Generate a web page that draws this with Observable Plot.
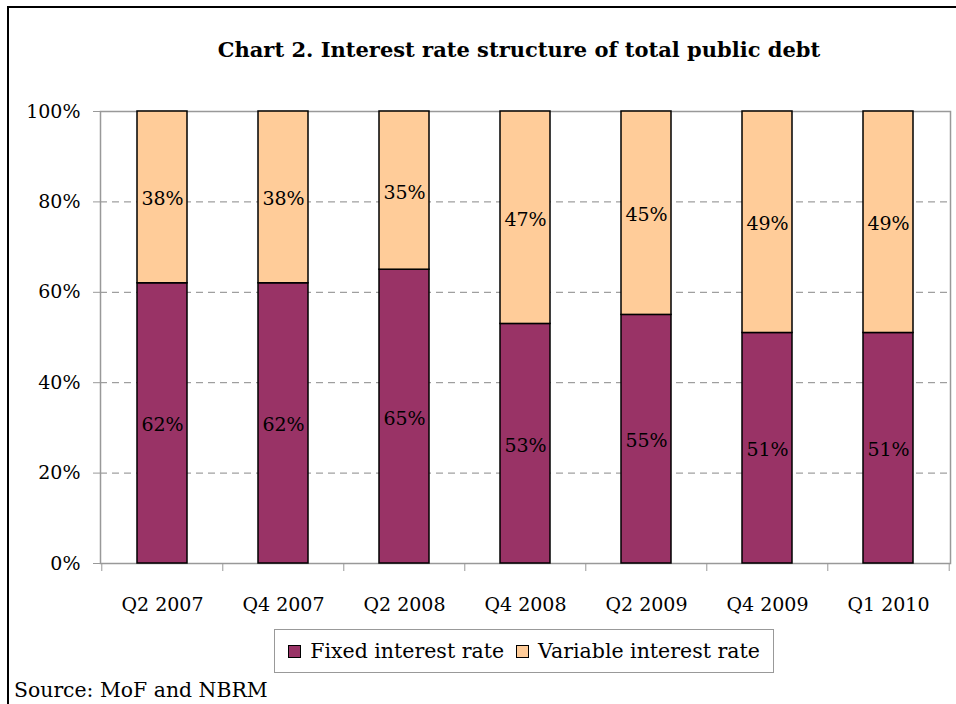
<!DOCTYPE html>
<html>
<head>
<meta charset="utf-8">
<script src="https://cdn.jsdelivr.net/npm/d3@7"></script>
<script src="https://cdn.jsdelivr.net/npm/@observablehq/plot@0.6"></script>
<style>
  html, body { margin: 0; padding: 0; background: #fff; }
  #wrap { position: relative; width: 956px; height: 704px; overflow: hidden; font-family: "DejaVu Serif", serif; }
  #border { position: absolute; left: 7px; top: 6px; width: 1100px; height: 1000px; border: 2px solid #000; box-sizing: border-box; }
  #title { position: absolute; left: 0; width: 1038px; top: 37px; text-align: center; font-weight: bold; font-size: 21px; color: #000; }
  #chart { position: absolute; left: 0; top: 0; }
  #legend { position: absolute; left: 274px; top: 629px; width: 500px; height: 44px; border: 1px solid #999; box-sizing: border-box; display: flex; align-items: center; justify-content: center; font-size: 20.5px; gap: 12px; background: #fff; }
  .item { display: flex; align-items: center; gap: 9px; }
  .sw { width: 11px; height: 11px; border: 1.5px solid #000; display: inline-block; }
  #source { position: absolute; left: 14px; top: 678px; font-size: 20.4px; color: #000; }
</style>
</head>
<body>
<div id="wrap">
  <div id="border"></div>
  <div id="title">Chart 2. Interest rate structure of total public debt</div>
  <div id="chart"></div>
  <div id="legend"></div>
  <div id="source">Source: MoF and NBRM</div>
</div>
<script>
const categories = ["Q2 2007", "Q4 2007", "Q2 2008", "Q4 2008", "Q2 2009", "Q4 2009", "Q1 2010"];
const fixedRate = [62, 62, 65, 53, 55, 51, 51];
const variableRate = [38, 38, 35, 47, 45, 49, 49];
const seriesNames = ["Fixed interest rate", "Variable interest rate"];
const seriesColors = ["#993366", "#FFCC99"];
const yTicks = [0, 20, 40, 60, 80, 100];

const rows = [];
categories.forEach((c, i) => {
  rows.push({cat: c, series: seriesNames[0], value: fixedRate[i]});
  rows.push({cat: c, series: seriesNames[1], value: variableRate[i]});
});

const width = 956, height = 620;
const mL = 100, mR = 6, mT = 111, mB = 57;
const step = (width - mL - mR) / categories.length;
const font = "DejaVu Serif, serif";

const plot = Plot.plot({
  width, height,
  marginLeft: mL, marginRight: mR, marginTop: mT, marginBottom: mB,
  style: {fontFamily: font, fontSize: "19px", color: "#000", background: "transparent", overflow: "visible"},
  x: {domain: categories, paddingInner: 0.59, paddingOuter: 0.295, label: null},
  y: {domain: [0, 100], label: null},
  color: {domain: seriesNames, range: seriesColors},
  marks: [
    Plot.gridY(yTicks.filter(d => d > 0 && d < 100), {stroke: "#888", strokeOpacity: 1, strokeDasharray: "7,5", strokeWidth: 1}),
    Plot.frame({stroke: "#999", strokeWidth: 1.5}),
    Plot.axisY(yTicks, {tickSize: 7, tickPadding: 13, tickFormat: d => d + "%", stroke: "#999", fill: "#000", fontSize: 19}),
    Plot.axisX({tickSize: 0, tickPadding: 34, fill: "#000", fontSize: 19}),
    Plot.axisX({tickSize: 8, text: null, dx: -step / 2, stroke: "#999"}),
    Plot.axisX(categories.slice(-1), {tickSize: 8, text: null, dx: step / 2, stroke: "#999"}),
    Plot.barY(rows, {x: "cat", y: "value", fill: "series", stroke: "#000", strokeWidth: 1.5, order: seriesNames}),
    Plot.text(rows, Plot.stackY({x: "cat", y: "value", z: "series", order: seriesNames, text: d => d.value + "%", fill: "#000", fontSize: 19, dy: 2})),
  ]
});
document.getElementById("chart").appendChild(plot);

const legend = document.getElementById("legend");
seriesNames.forEach((s, i) => {
  const it = document.createElement("span");
  it.className = "item";
  const sw = document.createElement("span");
  sw.className = "sw";
  sw.style.background = seriesColors[i];
  const t = document.createElement("span");
  t.textContent = s;
  it.appendChild(sw); it.appendChild(t);
  legend.appendChild(it);
});
</script>
</body>
</html>
